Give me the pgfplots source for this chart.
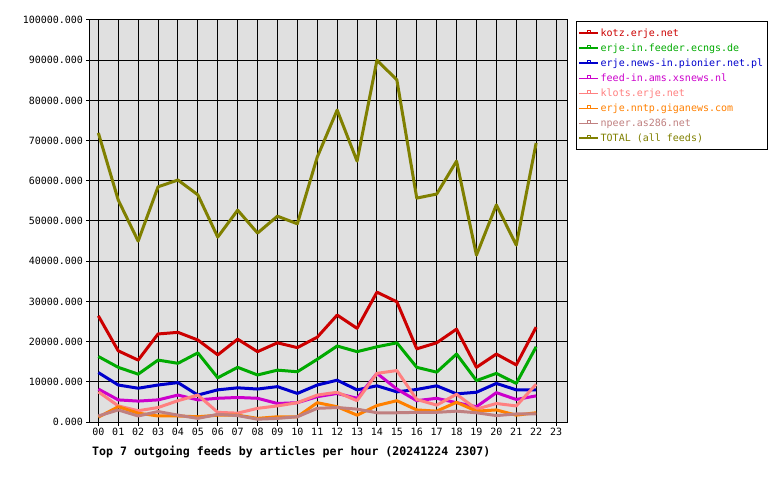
\documentclass[border=0pt]{standalone}
\usepackage{pgfplots}
\pgfplotsset{compat=1.18}
\usepackage{fontspec}
\setmainfont{DejaVu Sans Mono}
\definecolor{bg}{HTML}{E0E0E0}
\definecolor{ckotz}{HTML}{CC0000}
\definecolor{cecn}{HTML}{00AA00}
\definecolor{cpio}{HTML}{0000CC}
\definecolor{cxs}{HTML}{CC00CC}
\definecolor{cklo}{HTML}{FF8080}
\definecolor{cgig}{HTML}{FF8000}
\definecolor{cnpe}{HTML}{C08080}
\definecolor{ctot}{HTML}{808000}
\begin{document}
\begin{tikzpicture}
\path[use as bounding box] (0,0) rectangle (780pt,480pt);
\begin{axis}[
  at={(90pt,58pt)}, anchor=south west,
  scale only axis, width=477pt, height=402pt,
  xmin=-0.42, xmax=23.55, ymin=0, ymax=100000,
  axis background/.style={fill=bg},
  axis line style={black, line width=1pt},
  grid=major, major grid style={black, line width=1pt},
  tick pos=left,
  tick align=center, major tick length=7pt,
  tick style={black, line width=1pt},
  xtick={0,...,23},
  xticklabels={00,01,02,03,04,05,06,07,08,09,10,11,12,13,14,15,16,17,18,19,20,21,22,23},
  ytick={0,10000,...,100000},
  yticklabels={0.000,10000.000,20000.000,30000.000,40000.000,50000.000,60000.000,70000.000,80000.000,90000.000,100000.000},
  scaled y ticks=false,
  tick label style={font=\fontsize{10}{12}\selectfont},
  xticklabel style={yshift=1pt},
  /pgf/number format/assume math mode=true,
  legend style={at={(1,1)}, anchor=north west, xshift=9pt, yshift=-1pt, draw=black, line width=1pt,
    font=\fontsize{10}{12}\selectfont, row sep=1.9pt, inner xsep=2pt, inner ysep=5pt,
    cells={anchor=west}},
  legend cell align=left,
  legend image code/.code={\draw[#1, line width=1.2pt] (0pt,0pt) -- (19pt,0pt);
     \draw[#1, line width=0.9pt] (8pt,0pt) rectangle (11.5pt,2.5pt);},
  every axis plot/.append style={line width=3pt, no marks, line join=round},
]
\addplot[color=ckotz] coordinates {(0,26400)(1,17700)(2,15400)(3,21900)(4,22300)(5,20400)(6,16700)(7,20600)(8,17500)(9,19700)(10,18500)(11,21100)(12,26600)(13,23300)(14,32300)(15,29900)(16,18200)(17,19700)(18,23100)(19,13600)(20,16900)(21,14200)(22,23600)};
\addlegendentry{\textcolor{ckotz}{kotz.erje.net}}
\addplot[color=cecn] coordinates {(0,16300)(1,13600)(2,11900)(3,15400)(4,14600)(5,17200)(6,11000)(7,13600)(8,11700)(9,12900)(10,12500)(11,15600)(12,18900)(13,17500)(14,18700)(15,19700)(16,13600)(17,12400)(18,16900)(19,10300)(20,12100)(21,9600)(22,18700)};
\addlegendentry{\textcolor{cecn}{erje-in.feeder.ecngs.de}}
\addplot[color=cpio] coordinates {(0,12300)(1,9200)(2,8400)(3,9200)(4,9800)(5,6700)(6,8000)(7,8500)(8,8200)(9,8800)(10,7100)(11,9200)(12,10400)(13,8000)(14,9000)(15,7500)(16,8100)(17,9000)(18,7000)(19,7400)(20,9600)(21,8000)(22,8000)};
\addlegendentry{\textcolor{cpio}{erje.news-in.pionier.net.pl}}
\addplot[color=cxs] coordinates {(0,8200)(1,5500)(2,5200)(3,5500)(4,6700)(5,5500)(6,5900)(7,6100)(8,5900)(9,4600)(10,4800)(11,6300)(12,7100)(13,5900)(14,12100)(15,8200)(16,5300)(17,5900)(18,4800)(19,3800)(20,7300)(21,5600)(22,6500)};
\addlegendentry{\textcolor{cxs}{feed-in.ams.xsnews.nl}}
\addplot[color=cklo] coordinates {(0,7500)(1,4000)(2,2800)(3,3600)(4,5300)(5,6700)(6,2400)(7,2200)(8,3400)(9,4000)(10,4800)(11,6700)(12,7400)(13,5300)(14,12100)(15,12800)(16,5600)(17,4200)(18,6900)(19,3200)(20,4600)(21,4000)(22,9400)};
\addlegendentry{\textcolor{cklo}{klots.erje.net}}
\addplot[color=cgig] coordinates {(0,1200)(1,3800)(2,2200)(3,1500)(4,1500)(5,1300)(6,1700)(7,1700)(8,900)(9,1300)(10,1300)(11,4800)(12,3800)(13,1700)(14,4100)(15,5300)(16,3000)(17,2700)(18,4900)(19,2700)(20,3000)(21,1700)(22,2300)};
\addlegendentry{\textcolor{cgig}{erje.nntp.giganews.com}}
\addplot[color=cnpe] coordinates {(0,1500)(1,3000)(2,1500)(3,2600)(4,1700)(5,900)(6,1900)(7,1600)(8,700)(9,900)(10,1300)(11,3400)(12,3600)(13,3200)(14,2300)(15,2300)(16,2400)(17,2400)(18,2700)(19,2300)(20,1600)(21,2000)(22,2000)};
\addlegendentry{\textcolor{cnpe}{npeer.as286.net}}
\addplot[color=ctot] coordinates {(0,71900)(1,55200)(2,45000)(3,58500)(4,60200)(5,56500)(6,46000)(7,52700)(8,47000)(9,51200)(10,49300)(11,65900)(12,77600)(13,64900)(14,90000)(15,85100)(16,55700)(17,56700)(18,64900)(19,41500)(20,54000)(21,44000)(22,69400)};
\addlegendentry{\textcolor{ctot}{TOTAL (all feeds)}}
\end{axis}
\node[anchor=west, inner sep=0pt, font=\fontsize{11.6}{13}\selectfont\bfseries] at (92pt,28pt) {Top 7 outgoing feeds by articles per hour (20241224 2307)};
\end{tikzpicture}
\end{document}
